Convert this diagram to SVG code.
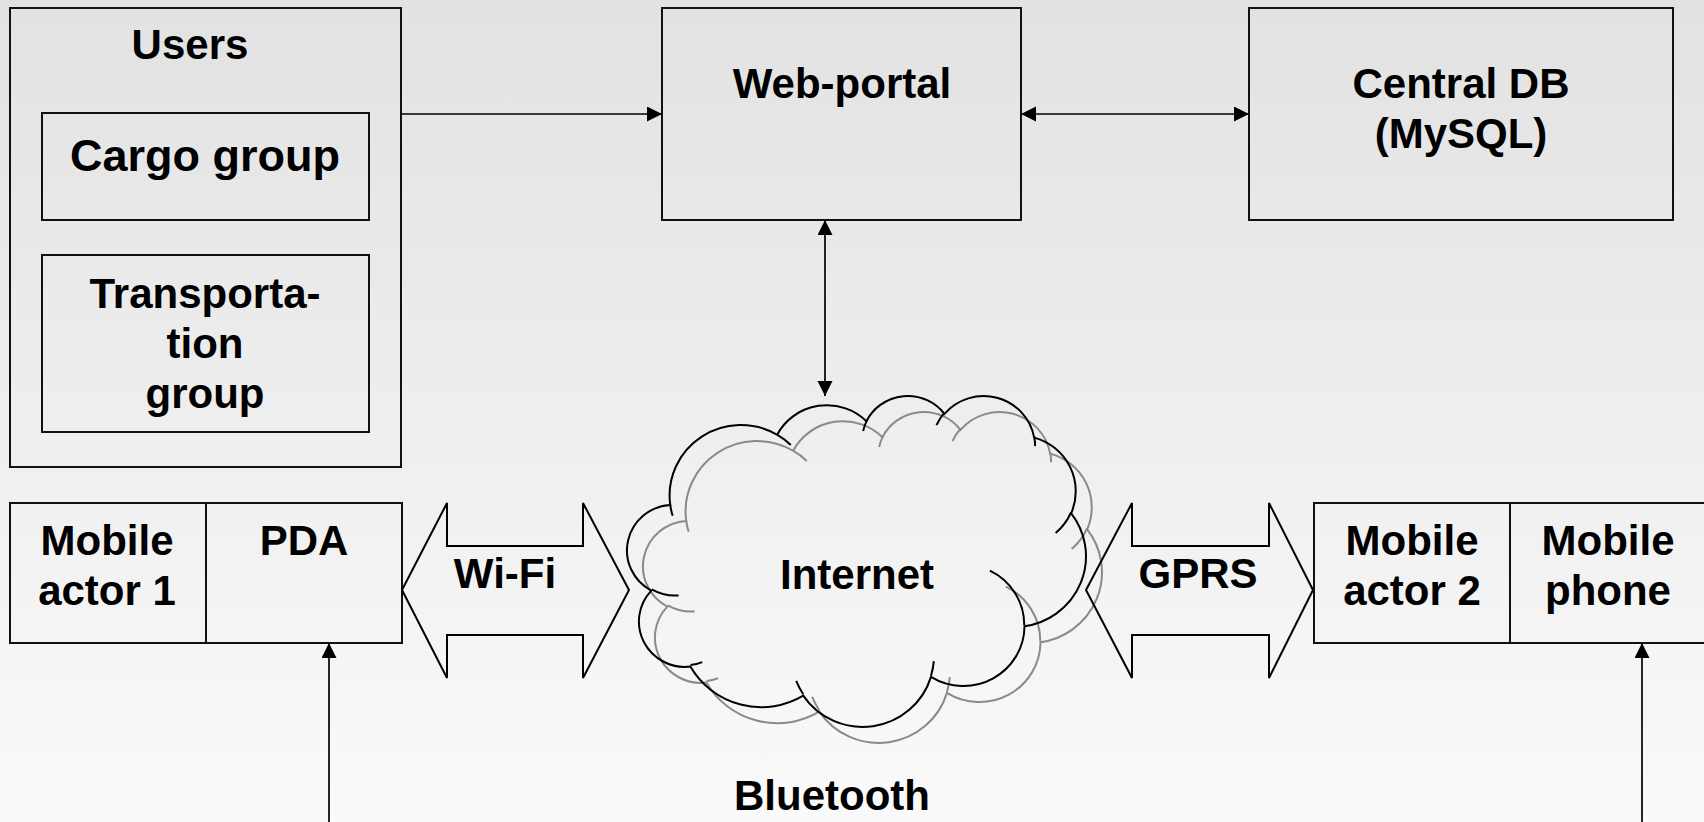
<svg xmlns="http://www.w3.org/2000/svg" width="1704" height="822" viewBox="0 0 1704 822">
<defs>
<linearGradient id="bg" x1="0" y1="0" x2="0" y2="1">
<stop offset="0" stop-color="#e2e2e2"/>
<stop offset="1" stop-color="#fafafa"/>
</linearGradient>
<marker id="ah" markerUnits="userSpaceOnUse" markerWidth="16" markerHeight="16" refX="15" refY="7.5" orient="auto-start-reverse" viewBox="0 0 16 16">
<path d="M0,0 L15,7.5 L0,15 Z" fill="#000"/>
</marker>
<g id="cloudShape">
<path d="M670.24,504.96 A71.41,70.39 0 0 1 777.10,434.75 A56.39,55.66 0 0 1 866.45,421.19 A46.16,45.53 0 0 1 944.46,413.91 A51.36,50.51 0 0 1 1034.19,437.62 A56.39,55.70 0 0 1 1071.19,513.32 A71.64,70.62 0 0 1 1024.51,626.22 A61.17,60.25 0 0 1 930.95,676.85 A71.40,70.58 0 0 1 803.26,695.63 A81.63,80.75 0 0 1 690.37,666.59 A46.10,45.33 0 0 1 651.34,590.61 A45.94,45.53 0 0 1 670.24,504.96 Z"/>
<path d="M678.62,595.39 A45.94,45.53 0 0 1 651.84,589.29 M702.26,662.19 A46.10,45.33 0 0 1 690.54,665.11 M803.24,694.29 A71.40,70.58 0 0 1 796.18,680.96 M933.82,661.06 A71.40,70.58 0 0 1 931.00,675.67 M989.88,570.70 A61.17,60.25 0 0 1 1024.27,625.36 M1070.97,512.50 A56.39,55.70 0 0 1 1055.66,532.99 M1034.24,436.46 A51.36,50.51 0 0 1 1035.05,446.13 M936.47,425.17 A51.36,50.51 0 0 1 944.32,412.82 M863.12,431.05 A46.16,45.53 0 0 1 866.91,420.41 M777.04,434.67 A71.41,70.39 0 0 1 790.77,444.98 M672.64,515.83 A71.41,70.39 0 0 1 670.24,504.96"/>
</g>
</defs>
<style>
.box{fill:none;stroke:#111;stroke-width:2}
.t{font-family:"Liberation Sans",Arial,sans-serif;font-weight:bold;font-size:42px;fill:#000;text-anchor:middle}
.con{fill:none;stroke:#000;stroke-width:1.7}
.big{fill:none;stroke:#000;stroke-width:2;stroke-linejoin:miter}
</style>
<rect x="0" y="0" width="1704" height="822" fill="url(#bg)"/>

<g id="users">
<rect class="box" x="10" y="8" width="391" height="459"/>
<text class="t" x="190" y="59">Users</text>
</g>
<g id="cargo-group">
<rect class="box" x="42" y="113" width="327" height="107"/>
<text class="t" x="205" y="171" style="font-size:45px">Cargo group</text>
</g>
<g id="transportation-group">
<rect class="box" x="42" y="255" width="327" height="177"/>
<text class="t" x="205" y="308">Transporta-</text>
<text class="t" x="205" y="358">tion</text>
<text class="t" x="205" y="408">group</text>
</g>
<g id="web-portal">
<rect class="box" x="662" y="8" width="359" height="212"/>
<text class="t" x="842" y="98">Web-portal</text>
</g>
<g id="central-db">
<rect class="box" x="1249" y="8" width="424" height="212"/>
<text class="t" x="1461" y="98">Central DB</text>
<text class="t" x="1461" y="148">(MySQL)</text>
</g>
<g id="mobile-actor-1">
<rect class="box" x="10" y="503" width="196" height="140"/>
<text class="t" x="107" y="555">Mobile</text>
<text class="t" x="107" y="605">actor 1</text>
</g>
<g id="pda">
<rect class="box" x="206" y="503" width="196" height="140"/>
<text class="t" x="304" y="555">PDA</text>
</g>
<g id="wifi">
<path class="big" d="M402,590 L447,503 L447,546 L583,546 L583,503 L629,590 L583,678 L583,635 L447,635 L447,678 Z"/>
<text class="t" x="505" y="588">Wi-Fi</text>
</g>
<g id="internet">
<use href="#cloudShape" transform="translate(16,16)" fill="none" stroke="#8a8a8a" stroke-width="2"/>
<use href="#cloudShape" fill="none" stroke="#000" stroke-width="2"/>
<text class="t" x="857" y="589">Internet</text>
</g>
<g id="gprs">
<path class="big" d="M1086,590 L1132,503 L1132,546 L1269,546 L1269,503 L1313,590 L1269,678 L1269,635 L1132,635 L1132,678 Z"/>
<text class="t" x="1198" y="588">GPRS</text>
</g>
<g id="mobile-actor-2">
<rect class="box" x="1314" y="503" width="196" height="140"/>
<text class="t" x="1412" y="555">Mobile</text>
<text class="t" x="1412" y="605">actor 2</text>
</g>
<g id="mobile-phone">
<rect class="box" x="1510" y="503" width="196" height="140"/>
<text class="t" x="1608" y="555">Mobile</text>
<text class="t" x="1608" y="605">phone</text>
</g>
<g id="bluetooth">
<text class="t" x="832" y="810">Bluetooth</text>
</g>

<g id="connectors">
<line class="con" x1="401" y1="114" x2="662" y2="114" marker-end="url(#ah)"/>
<line class="con" x1="1021" y1="114" x2="1249" y2="114" marker-start="url(#ah)" marker-end="url(#ah)"/>
<line class="con" x1="825" y1="220" x2="825" y2="396" marker-start="url(#ah)" marker-end="url(#ah)"/>
<line class="con" x1="329" y1="822" x2="329" y2="643" marker-end="url(#ah)"/>
<line class="con" x1="1642" y1="822" x2="1642" y2="643" marker-end="url(#ah)"/>
</g>
</svg>
